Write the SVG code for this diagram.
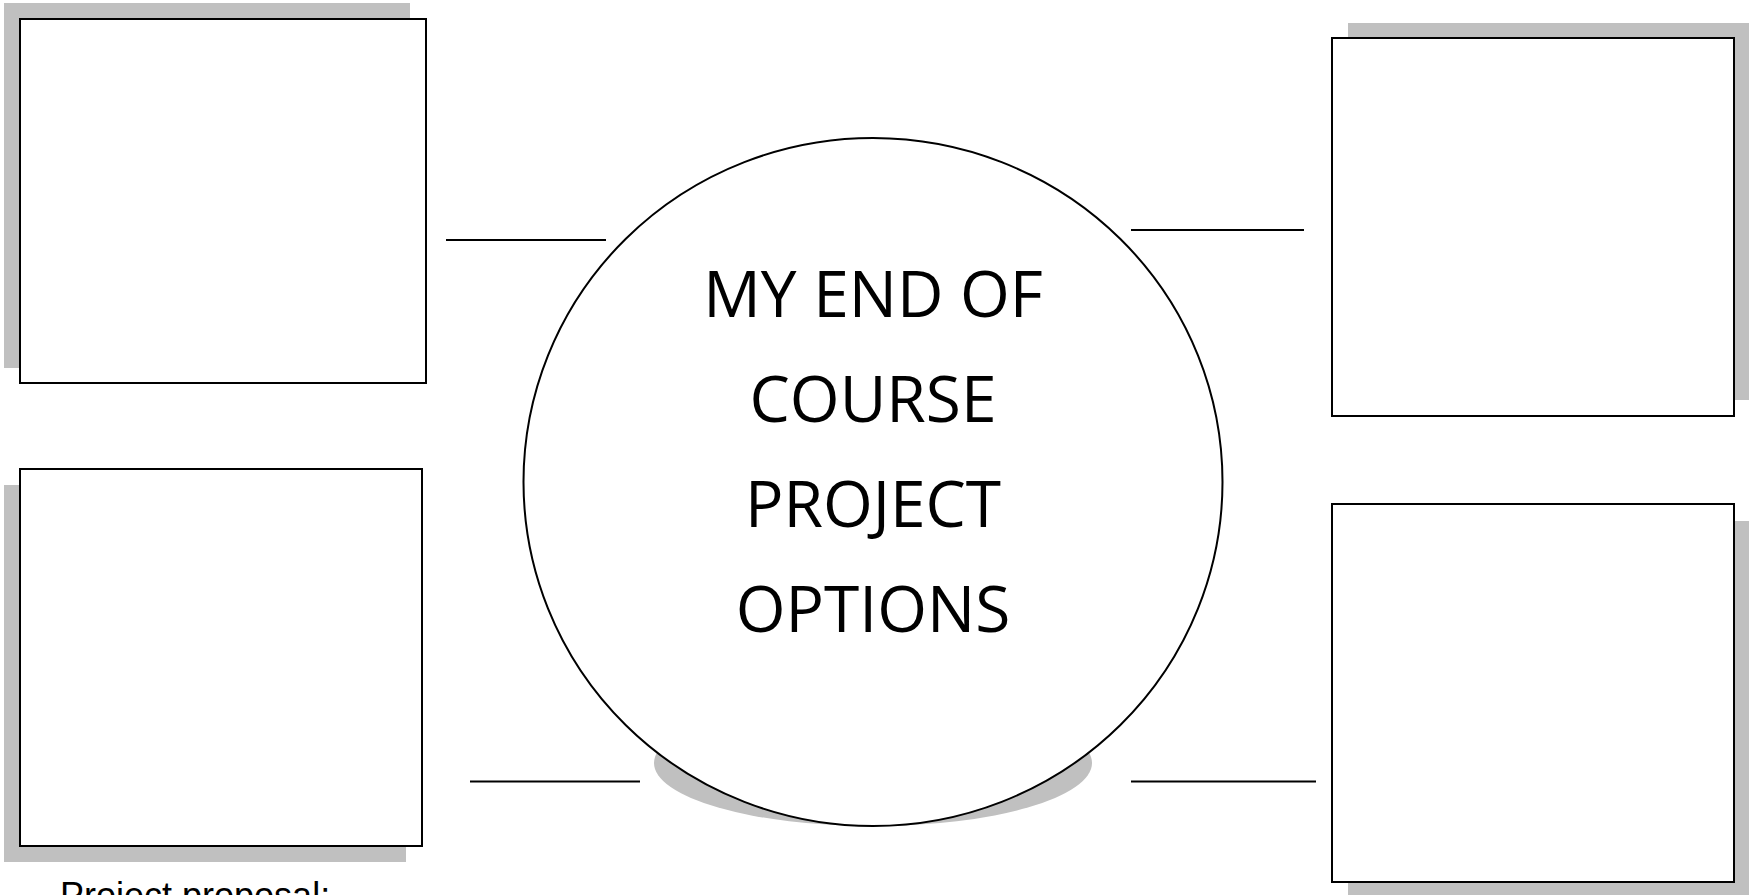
<svg xmlns="http://www.w3.org/2000/svg" width="1749" height="895" viewBox="0 0 1749 895">
<style>
.shadow{fill:#c0c0c0;stroke:none}
.box{fill:#ffffff;stroke:#000000;stroke-width:2}
.conn{stroke:#000000;stroke-width:2;fill:none}
.title{font-family:"Open Sans","Noto Sans",sans-serif;font-size:64px;fill:#000000;text-anchor:middle}
.caption{font-family:"Liberation Sans",Arial,sans-serif;font-size:36px;fill:#000000}
</style>
<rect x="0" y="0" width="1749" height="895" fill="#ffffff"/>
<g id="box-top-left">
<rect class="shadow" x="4" y="3" width="406" height="365"/>
<rect class="box" x="20" y="19" width="406" height="364"/>
</g>
<g id="box-bottom-left">
<rect class="shadow" x="4" y="485" width="402" height="377"/>
<rect class="box" x="20" y="469" width="402" height="377"/>
</g>
<g id="box-top-right">
<rect class="shadow" x="1348" y="23" width="401" height="377"/>
<rect class="box" x="1332" y="38" width="402" height="378"/>
</g>
<g id="box-bottom-right">
<rect class="shadow" x="1348" y="521" width="401" height="374"/>
<rect class="box" x="1332" y="504" width="402" height="378"/>
</g>
<g id="center">
<ellipse class="shadow" cx="873" cy="763" rx="219" ry="63"/>
<ellipse cx="873" cy="482" rx="349.5" ry="344" fill="#ffffff" stroke="#000000" stroke-width="2"/>
<text class="title" x="873" y="317">MY END OF</text>
<text class="title" x="873" y="422">COURSE</text>
<text class="title" x="873" y="527">PROJECT</text>
<text class="title" x="873" y="632">OPTIONS</text>
</g>
<g id="connectors">
<line class="conn" x1="446" y1="240" x2="606" y2="240"/>
<line class="conn" x1="1131" y1="230" x2="1304" y2="230"/>
<line class="conn" x1="470" y1="781.5" x2="640" y2="781.5"/>
<line class="conn" x1="1131" y1="781.5" x2="1316" y2="781.5"/>
</g>
<g id="caption">
<text class="caption" x="60" y="908">Project proposal:</text>
</g>
</svg>
